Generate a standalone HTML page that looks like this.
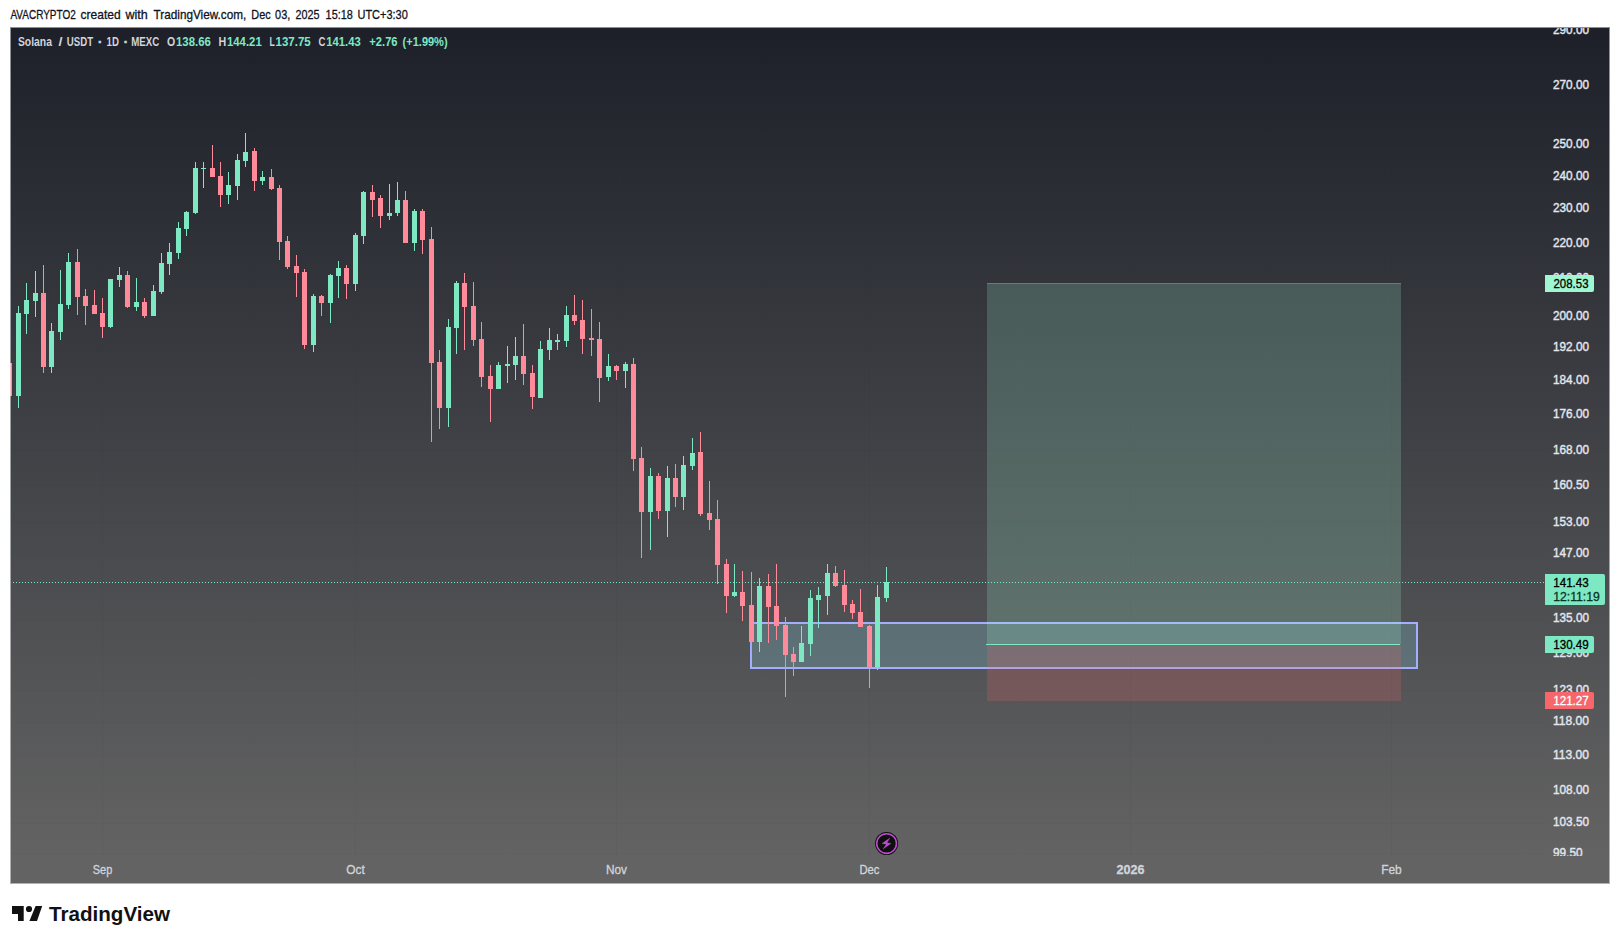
<!DOCTYPE html>
<html lang="en"><head><meta charset="utf-8"><title>Solana / USDT chart</title>
<style>
html,body{margin:0;padding:0;background:#fff;}
body{width:1620px;height:944px;overflow:hidden;position:relative;}
svg{display:block;position:absolute;left:0;top:0;}
text{font-family:"Liberation Sans",sans-serif;}
.ax{font-size:12px;fill:#e4e6ec;stroke:#e4e6ec;stroke-width:0.4px;}
.tm{font-size:12px;fill:#d1d4dc;stroke:#d1d4dc;stroke-width:0.3px;}
.lg{font-size:13px;font-weight:bold;}
</style></head><body>
<svg width="1620" height="944" viewBox="0 0 1620 944">
<defs>
<linearGradient id="bg" gradientUnits="userSpaceOnUse" x1="0" y1="28" x2="0" y2="856"><stop offset="0" stop-color="#1d2029"/><stop offset="1" stop-color="#636363"/></linearGradient>
<clipPath id="pane"><rect x="10" y="28" width="1599" height="828"/></clipPath>
<clipPath id="chart"><rect x="11" y="28" width="1598" height="855"/></clipPath>
</defs>
<g font-size="13" fill="#10131c" stroke="#10131c" stroke-width="0.3">
<text x="10.4" y="19" textLength="65.4" lengthAdjust="spacingAndGlyphs">AVACRYPTO2</text>
<text x="80.6" y="19" textLength="40.0" lengthAdjust="spacingAndGlyphs">created</text>
<text x="125.5" y="19" textLength="22.3" lengthAdjust="spacingAndGlyphs">with</text>
<text x="153.6" y="19" textLength="92.6" lengthAdjust="spacingAndGlyphs">TradingView.com,</text>
<text x="251.3" y="19" textLength="19.3" lengthAdjust="spacingAndGlyphs">Dec</text>
<text x="275.1" y="19" textLength="15.2" lengthAdjust="spacingAndGlyphs">03,</text>
<text x="295.5" y="19" textLength="24.0" lengthAdjust="spacingAndGlyphs">2025</text>
<text x="325.6" y="19" textLength="27.2" lengthAdjust="spacingAndGlyphs">15:18</text>
<text x="357.5" y="19" textLength="50.3" lengthAdjust="spacingAndGlyphs">UTC+3:30</text>
</g>
<rect x="10" y="27" width="1600" height="857" fill="url(#bg)"/>
<g clip-path="url(#pane)" shape-rendering="crispEdges" fill="#2a2e39" fill-opacity="0.05">
<rect x="11" y="30" width="1534" height="1" fill-opacity="0.03"/>
<rect x="11" y="85" width="1534" height="1" fill-opacity="0.03"/>
<rect x="11" y="144" width="1534" height="1" fill-opacity="0.03"/>
<rect x="11" y="175" width="1534" height="1" fill-opacity="0.03"/>
<rect x="11" y="208" width="1534" height="1" fill-opacity="0.03"/>
<rect x="11" y="242" width="1534" height="1" fill-opacity="0.03"/>
<rect x="11" y="278" width="1534" height="1" fill-opacity="0.03"/>
<rect x="11" y="316" width="1534" height="1" fill-opacity="0.03"/>
<rect x="11" y="347" width="1534" height="1" fill-opacity="0.03"/>
<rect x="11" y="380" width="1534" height="1" fill-opacity="0.03"/>
<rect x="11" y="414" width="1534" height="1" fill-opacity="0.03"/>
<rect x="11" y="450" width="1534" height="1" fill-opacity="0.03"/>
<rect x="11" y="485" width="1534" height="1" fill-opacity="0.03"/>
<rect x="11" y="522" width="1534" height="1" fill-opacity="0.03"/>
<rect x="11" y="553" width="1534" height="1" fill-opacity="0.03"/>
<rect x="11" y="619" width="1534" height="1" fill-opacity="0.03"/>
<rect x="11" y="654" width="1534" height="1" fill-opacity="0.03"/>
<rect x="11" y="690" width="1534" height="1" fill-opacity="0.03"/>
<rect x="11" y="722" width="1534" height="1" fill-opacity="0.03"/>
<rect x="11" y="755" width="1534" height="1" fill-opacity="0.03"/>
<rect x="11" y="790" width="1534" height="1" fill-opacity="0.03"/>
<rect x="11" y="823" width="1534" height="1" fill-opacity="0.03"/>
<rect x="11" y="853" width="1534" height="1" fill-opacity="0.03"/>
<rect x="11" y="585" width="1534" height="1" fill-opacity="0.03"/>
<rect x="102" y="28" width="1" height="828"/>
<rect x="355" y="28" width="1" height="828"/>
<rect x="616" y="28" width="1" height="828"/>
<rect x="869" y="28" width="1" height="828"/>
<rect x="1130" y="28" width="1" height="828"/>
<rect x="1391" y="28" width="1" height="828"/>
</g>
<g clip-path="url(#pane)" shape-rendering="crispEdges">
<rect x="751" y="623" width="666" height="45" fill="#7cb6c4" fill-opacity="0.3" stroke="#a3aeff" stroke-width="2"/>
<rect x="987" y="283" width="414" height="361" fill="#9ef7d1" fill-opacity="0.2"/>
<rect x="987" y="283" width="414" height="1" fill="#9ef7d1" fill-opacity="0.25"/>
<rect x="987" y="645" width="414" height="56" fill="#f7666b" fill-opacity="0.2"/>
<rect x="986" y="644" width="414" height="1" fill="#7de8c2"/>
</g>
<g clip-path="url(#pane)" shape-rendering="crispEdges">
<rect x="9" y="363" width="1" height="33" fill="#ff8a9a"/>
<rect x="7" y="363" width="5" height="33" fill="#ff8a9a"/>
<rect x="18" y="306" width="1" height="102" fill="#7de8c2"/>
<rect x="16" y="313" width="5" height="83" fill="#7de8c2"/>
<rect x="26" y="283" width="1" height="51" fill="#7de8c2"/>
<rect x="24" y="300" width="5" height="14" fill="#7de8c2"/>
<rect x="35" y="271" width="1" height="46" fill="#7de8c2"/>
<rect x="33" y="293" width="5" height="8" fill="#7de8c2"/>
<rect x="43" y="265" width="1" height="108" fill="#ff8a9a"/>
<rect x="41" y="293" width="5" height="74" fill="#ff8a9a"/>
<rect x="51" y="323" width="1" height="50" fill="#7de8c2"/>
<rect x="49" y="331" width="5" height="36" fill="#7de8c2"/>
<rect x="60" y="270" width="1" height="70" fill="#7de8c2"/>
<rect x="58" y="304" width="5" height="28" fill="#7de8c2"/>
<rect x="68" y="253" width="1" height="56" fill="#7de8c2"/>
<rect x="66" y="262" width="5" height="43" fill="#7de8c2"/>
<rect x="77" y="249" width="1" height="66" fill="#ff8a9a"/>
<rect x="75" y="262" width="5" height="35" fill="#ff8a9a"/>
<rect x="85" y="289" width="1" height="36" fill="#ff8a9a"/>
<rect x="83" y="296" width="5" height="10" fill="#ff8a9a"/>
<rect x="94" y="290" width="1" height="24" fill="#ff8a9a"/>
<rect x="92" y="305" width="5" height="9" fill="#ff8a9a"/>
<rect x="102" y="298" width="1" height="40" fill="#ff8a9a"/>
<rect x="100" y="313" width="5" height="14" fill="#ff8a9a"/>
<rect x="110" y="279" width="1" height="49" fill="#7de8c2"/>
<rect x="108" y="279" width="5" height="48" fill="#7de8c2"/>
<rect x="119" y="267" width="1" height="20" fill="#7de8c2"/>
<rect x="117" y="275" width="5" height="5" fill="#7de8c2"/>
<rect x="127" y="271" width="1" height="37" fill="#ff8a9a"/>
<rect x="125" y="275" width="5" height="32" fill="#ff8a9a"/>
<rect x="136" y="278" width="1" height="33" fill="#7de8c2"/>
<rect x="134" y="302" width="5" height="5" fill="#7de8c2"/>
<rect x="144" y="298" width="1" height="20" fill="#ff8a9a"/>
<rect x="142" y="302" width="5" height="14" fill="#ff8a9a"/>
<rect x="153" y="285" width="1" height="31" fill="#7de8c2"/>
<rect x="151" y="291" width="5" height="25" fill="#7de8c2"/>
<rect x="161" y="253" width="1" height="41" fill="#7de8c2"/>
<rect x="159" y="263" width="5" height="29" fill="#7de8c2"/>
<rect x="169" y="243" width="1" height="32" fill="#7de8c2"/>
<rect x="167" y="252" width="5" height="12" fill="#7de8c2"/>
<rect x="178" y="222" width="1" height="37" fill="#7de8c2"/>
<rect x="176" y="228" width="5" height="25" fill="#7de8c2"/>
<rect x="186" y="211" width="1" height="25" fill="#7de8c2"/>
<rect x="184" y="212" width="5" height="17" fill="#7de8c2"/>
<rect x="195" y="162" width="1" height="52" fill="#7de8c2"/>
<rect x="193" y="168" width="5" height="45" fill="#7de8c2"/>
<rect x="203" y="162" width="1" height="26" fill="#7de8c2"/>
<rect x="201" y="168" width="5" height="1" fill="#7de8c2"/>
<rect x="212" y="145" width="1" height="32" fill="#ff8a9a"/>
<rect x="210" y="168" width="5" height="9" fill="#ff8a9a"/>
<rect x="220" y="162" width="1" height="45" fill="#ff8a9a"/>
<rect x="218" y="176" width="5" height="19" fill="#ff8a9a"/>
<rect x="228" y="172" width="1" height="32" fill="#7de8c2"/>
<rect x="226" y="185" width="5" height="10" fill="#7de8c2"/>
<rect x="237" y="154" width="1" height="46" fill="#7de8c2"/>
<rect x="235" y="160" width="5" height="26" fill="#7de8c2"/>
<rect x="245" y="133" width="1" height="34" fill="#7de8c2"/>
<rect x="243" y="152" width="5" height="9" fill="#7de8c2"/>
<rect x="254" y="148" width="1" height="43" fill="#ff8a9a"/>
<rect x="252" y="151" width="5" height="30" fill="#ff8a9a"/>
<rect x="262" y="171" width="1" height="14" fill="#7de8c2"/>
<rect x="260" y="177" width="5" height="4" fill="#7de8c2"/>
<rect x="271" y="169" width="1" height="21" fill="#ff8a9a"/>
<rect x="269" y="177" width="5" height="12" fill="#ff8a9a"/>
<rect x="279" y="185" width="1" height="75" fill="#ff8a9a"/>
<rect x="277" y="188" width="5" height="54" fill="#ff8a9a"/>
<rect x="287" y="236" width="1" height="33" fill="#ff8a9a"/>
<rect x="285" y="241" width="5" height="26" fill="#ff8a9a"/>
<rect x="296" y="255" width="1" height="42" fill="#ff8a9a"/>
<rect x="294" y="266" width="5" height="7" fill="#ff8a9a"/>
<rect x="304" y="269" width="1" height="80" fill="#ff8a9a"/>
<rect x="302" y="272" width="5" height="73" fill="#ff8a9a"/>
<rect x="313" y="294" width="1" height="58" fill="#7de8c2"/>
<rect x="311" y="296" width="5" height="49" fill="#7de8c2"/>
<rect x="321" y="295" width="1" height="21" fill="#ff8a9a"/>
<rect x="319" y="296" width="5" height="7" fill="#ff8a9a"/>
<rect x="330" y="274" width="1" height="49" fill="#7de8c2"/>
<rect x="328" y="275" width="5" height="28" fill="#7de8c2"/>
<rect x="338" y="261" width="1" height="37" fill="#7de8c2"/>
<rect x="336" y="268" width="5" height="8" fill="#7de8c2"/>
<rect x="346" y="265" width="1" height="34" fill="#ff8a9a"/>
<rect x="344" y="268" width="5" height="16" fill="#ff8a9a"/>
<rect x="355" y="233" width="1" height="58" fill="#7de8c2"/>
<rect x="353" y="235" width="5" height="49" fill="#7de8c2"/>
<rect x="363" y="191" width="1" height="53" fill="#7de8c2"/>
<rect x="361" y="192" width="5" height="44" fill="#7de8c2"/>
<rect x="372" y="185" width="1" height="32" fill="#ff8a9a"/>
<rect x="370" y="192" width="5" height="8" fill="#ff8a9a"/>
<rect x="380" y="195" width="1" height="33" fill="#ff8a9a"/>
<rect x="378" y="198" width="5" height="18" fill="#ff8a9a"/>
<rect x="389" y="184" width="1" height="36" fill="#7de8c2"/>
<rect x="387" y="213" width="5" height="3" fill="#7de8c2"/>
<rect x="397" y="182" width="1" height="34" fill="#7de8c2"/>
<rect x="395" y="200" width="5" height="13" fill="#7de8c2"/>
<rect x="405" y="191" width="1" height="52" fill="#ff8a9a"/>
<rect x="403" y="200" width="5" height="43" fill="#ff8a9a"/>
<rect x="414" y="209" width="1" height="42" fill="#7de8c2"/>
<rect x="412" y="211" width="5" height="32" fill="#7de8c2"/>
<rect x="422" y="209" width="1" height="45" fill="#ff8a9a"/>
<rect x="420" y="211" width="5" height="29" fill="#ff8a9a"/>
<rect x="431" y="227" width="1" height="215" fill="#ff8a9a"/>
<rect x="429" y="239" width="5" height="124" fill="#ff8a9a"/>
<rect x="439" y="350" width="1" height="79" fill="#ff8a9a"/>
<rect x="437" y="362" width="5" height="46" fill="#ff8a9a"/>
<rect x="448" y="319" width="1" height="108" fill="#7de8c2"/>
<rect x="446" y="327" width="5" height="81" fill="#7de8c2"/>
<rect x="456" y="281" width="1" height="73" fill="#7de8c2"/>
<rect x="454" y="283" width="5" height="45" fill="#7de8c2"/>
<rect x="464" y="273" width="1" height="77" fill="#ff8a9a"/>
<rect x="462" y="283" width="5" height="24" fill="#ff8a9a"/>
<rect x="473" y="282" width="1" height="64" fill="#ff8a9a"/>
<rect x="471" y="306" width="5" height="34" fill="#ff8a9a"/>
<rect x="481" y="322" width="1" height="65" fill="#ff8a9a"/>
<rect x="479" y="339" width="5" height="38" fill="#ff8a9a"/>
<rect x="490" y="365" width="1" height="57" fill="#ff8a9a"/>
<rect x="488" y="376" width="5" height="13" fill="#ff8a9a"/>
<rect x="498" y="362" width="1" height="27" fill="#7de8c2"/>
<rect x="496" y="365" width="5" height="24" fill="#7de8c2"/>
<rect x="507" y="346" width="1" height="37" fill="#7de8c2"/>
<rect x="505" y="364" width="5" height="2" fill="#7de8c2"/>
<rect x="515" y="337" width="1" height="43" fill="#7de8c2"/>
<rect x="513" y="356" width="5" height="9" fill="#7de8c2"/>
<rect x="523" y="324" width="1" height="61" fill="#ff8a9a"/>
<rect x="521" y="356" width="5" height="18" fill="#ff8a9a"/>
<rect x="532" y="365" width="1" height="44" fill="#ff8a9a"/>
<rect x="530" y="373" width="5" height="24" fill="#ff8a9a"/>
<rect x="540" y="341" width="1" height="57" fill="#7de8c2"/>
<rect x="538" y="349" width="5" height="49" fill="#7de8c2"/>
<rect x="549" y="328" width="1" height="32" fill="#7de8c2"/>
<rect x="547" y="340" width="5" height="10" fill="#7de8c2"/>
<rect x="557" y="334" width="1" height="16" fill="#7de8c2"/>
<rect x="555" y="340" width="5" height="2" fill="#7de8c2"/>
<rect x="566" y="306" width="1" height="41" fill="#7de8c2"/>
<rect x="564" y="315" width="5" height="26" fill="#7de8c2"/>
<rect x="574" y="295" width="1" height="30" fill="#ff8a9a"/>
<rect x="572" y="315" width="5" height="6" fill="#ff8a9a"/>
<rect x="582" y="300" width="1" height="54" fill="#ff8a9a"/>
<rect x="580" y="320" width="5" height="19" fill="#ff8a9a"/>
<rect x="591" y="309" width="1" height="47" fill="#ff8a9a"/>
<rect x="589" y="338" width="5" height="2" fill="#ff8a9a"/>
<rect x="599" y="322" width="1" height="80" fill="#ff8a9a"/>
<rect x="597" y="339" width="5" height="39" fill="#ff8a9a"/>
<rect x="608" y="354" width="1" height="27" fill="#7de8c2"/>
<rect x="606" y="366" width="5" height="11" fill="#7de8c2"/>
<rect x="616" y="365" width="1" height="15" fill="#ff8a9a"/>
<rect x="614" y="366" width="5" height="5" fill="#ff8a9a"/>
<rect x="625" y="362" width="1" height="26" fill="#7de8c2"/>
<rect x="623" y="364" width="5" height="7" fill="#7de8c2"/>
<rect x="633" y="358" width="1" height="113" fill="#ff8a9a"/>
<rect x="631" y="364" width="5" height="95" fill="#ff8a9a"/>
<rect x="641" y="447" width="1" height="111" fill="#ff8a9a"/>
<rect x="639" y="458" width="5" height="54" fill="#ff8a9a"/>
<rect x="650" y="468" width="1" height="82" fill="#7de8c2"/>
<rect x="648" y="476" width="5" height="36" fill="#7de8c2"/>
<rect x="658" y="473" width="1" height="46" fill="#ff8a9a"/>
<rect x="656" y="476" width="5" height="35" fill="#ff8a9a"/>
<rect x="667" y="466" width="1" height="71" fill="#7de8c2"/>
<rect x="665" y="478" width="5" height="33" fill="#7de8c2"/>
<rect x="675" y="464" width="1" height="43" fill="#ff8a9a"/>
<rect x="673" y="478" width="5" height="19" fill="#ff8a9a"/>
<rect x="683" y="456" width="1" height="54" fill="#7de8c2"/>
<rect x="681" y="465" width="5" height="32" fill="#7de8c2"/>
<rect x="692" y="438" width="1" height="32" fill="#7de8c2"/>
<rect x="690" y="453" width="5" height="13" fill="#7de8c2"/>
<rect x="700" y="432" width="1" height="84" fill="#ff8a9a"/>
<rect x="698" y="452" width="5" height="62" fill="#ff8a9a"/>
<rect x="709" y="481" width="1" height="49" fill="#ff8a9a"/>
<rect x="707" y="513" width="5" height="7" fill="#ff8a9a"/>
<rect x="717" y="500" width="1" height="84" fill="#ff8a9a"/>
<rect x="715" y="519" width="5" height="46" fill="#ff8a9a"/>
<rect x="726" y="559" width="1" height="54" fill="#ff8a9a"/>
<rect x="724" y="564" width="5" height="32" fill="#ff8a9a"/>
<rect x="734" y="564" width="1" height="33" fill="#7de8c2"/>
<rect x="732" y="592" width="5" height="4" fill="#7de8c2"/>
<rect x="742" y="571" width="1" height="50" fill="#ff8a9a"/>
<rect x="740" y="592" width="5" height="14" fill="#ff8a9a"/>
<rect x="751" y="572" width="1" height="81" fill="#ff8a9a"/>
<rect x="749" y="605" width="5" height="37" fill="#ff8a9a"/>
<rect x="759" y="578" width="1" height="74" fill="#7de8c2"/>
<rect x="757" y="586" width="5" height="56" fill="#7de8c2"/>
<rect x="768" y="574" width="1" height="69" fill="#ff8a9a"/>
<rect x="766" y="586" width="5" height="21" fill="#ff8a9a"/>
<rect x="776" y="564" width="1" height="76" fill="#ff8a9a"/>
<rect x="774" y="606" width="5" height="20" fill="#ff8a9a"/>
<rect x="785" y="617" width="1" height="80" fill="#ff8a9a"/>
<rect x="783" y="625" width="5" height="30" fill="#ff8a9a"/>
<rect x="793" y="647" width="1" height="29" fill="#ff8a9a"/>
<rect x="791" y="654" width="5" height="8" fill="#ff8a9a"/>
<rect x="801" y="626" width="1" height="36" fill="#7de8c2"/>
<rect x="799" y="643" width="5" height="19" fill="#7de8c2"/>
<rect x="810" y="590" width="1" height="66" fill="#7de8c2"/>
<rect x="808" y="598" width="5" height="46" fill="#7de8c2"/>
<rect x="818" y="587" width="1" height="41" fill="#7de8c2"/>
<rect x="816" y="595" width="5" height="5" fill="#7de8c2"/>
<rect x="827" y="564" width="1" height="51" fill="#7de8c2"/>
<rect x="825" y="573" width="5" height="23" fill="#7de8c2"/>
<rect x="835" y="566" width="1" height="21" fill="#ff8a9a"/>
<rect x="833" y="573" width="5" height="13" fill="#ff8a9a"/>
<rect x="844" y="570" width="1" height="42" fill="#ff8a9a"/>
<rect x="842" y="585" width="5" height="20" fill="#ff8a9a"/>
<rect x="852" y="600" width="1" height="19" fill="#ff8a9a"/>
<rect x="850" y="604" width="5" height="9" fill="#ff8a9a"/>
<rect x="860" y="589" width="1" height="38" fill="#ff8a9a"/>
<rect x="858" y="612" width="5" height="15" fill="#ff8a9a"/>
<rect x="869" y="625" width="1" height="63" fill="#ff8a9a"/>
<rect x="867" y="626" width="5" height="41" fill="#ff8a9a"/>
<rect x="877" y="585" width="1" height="85" fill="#7de8c2"/>
<rect x="875" y="597" width="5" height="70" fill="#7de8c2"/>
<rect x="886" y="567" width="1" height="35" fill="#7de8c2"/>
<rect x="884" y="582" width="5" height="16" fill="#7de8c2"/>
</g>
<g shape-rendering="crispEdges" fill="#7de8c2">
<path d="M13 582h1v1h-1zM16 582h1v1h-1zM19 582h1v1h-1zM22 582h1v1h-1zM25 582h1v1h-1zM28 582h1v1h-1zM31 582h1v1h-1zM34 582h1v1h-1zM37 582h1v1h-1zM40 582h1v1h-1zM43 582h1v1h-1zM46 582h1v1h-1zM49 582h1v1h-1zM52 582h1v1h-1zM55 582h1v1h-1zM58 582h1v1h-1zM61 582h1v1h-1zM64 582h1v1h-1zM67 582h1v1h-1zM70 582h1v1h-1zM73 582h1v1h-1zM76 582h1v1h-1zM79 582h1v1h-1zM82 582h1v1h-1zM85 582h1v1h-1zM88 582h1v1h-1zM91 582h1v1h-1zM94 582h1v1h-1zM97 582h1v1h-1zM100 582h1v1h-1zM103 582h1v1h-1zM106 582h1v1h-1zM109 582h1v1h-1zM112 582h1v1h-1zM115 582h1v1h-1zM118 582h1v1h-1zM121 582h1v1h-1zM124 582h1v1h-1zM127 582h1v1h-1zM130 582h1v1h-1zM133 582h1v1h-1zM136 582h1v1h-1zM139 582h1v1h-1zM142 582h1v1h-1zM145 582h1v1h-1zM148 582h1v1h-1zM151 582h1v1h-1zM154 582h1v1h-1zM157 582h1v1h-1zM160 582h1v1h-1zM163 582h1v1h-1zM166 582h1v1h-1zM169 582h1v1h-1zM172 582h1v1h-1zM175 582h1v1h-1zM178 582h1v1h-1zM181 582h1v1h-1zM184 582h1v1h-1zM187 582h1v1h-1zM190 582h1v1h-1zM193 582h1v1h-1zM196 582h1v1h-1zM199 582h1v1h-1zM202 582h1v1h-1zM205 582h1v1h-1zM208 582h1v1h-1zM211 582h1v1h-1zM214 582h1v1h-1zM217 582h1v1h-1zM220 582h1v1h-1zM223 582h1v1h-1zM226 582h1v1h-1zM229 582h1v1h-1zM232 582h1v1h-1zM235 582h1v1h-1zM238 582h1v1h-1zM241 582h1v1h-1zM244 582h1v1h-1zM247 582h1v1h-1zM250 582h1v1h-1zM253 582h1v1h-1zM256 582h1v1h-1zM259 582h1v1h-1zM262 582h1v1h-1zM265 582h1v1h-1zM268 582h1v1h-1zM271 582h1v1h-1zM274 582h1v1h-1zM277 582h1v1h-1zM280 582h1v1h-1zM283 582h1v1h-1zM286 582h1v1h-1zM289 582h1v1h-1zM292 582h1v1h-1zM295 582h1v1h-1zM298 582h1v1h-1zM301 582h1v1h-1zM304 582h1v1h-1zM307 582h1v1h-1zM310 582h1v1h-1zM313 582h1v1h-1zM316 582h1v1h-1zM319 582h1v1h-1zM322 582h1v1h-1zM325 582h1v1h-1zM328 582h1v1h-1zM331 582h1v1h-1zM334 582h1v1h-1zM337 582h1v1h-1zM340 582h1v1h-1zM343 582h1v1h-1zM346 582h1v1h-1zM349 582h1v1h-1zM352 582h1v1h-1zM355 582h1v1h-1zM358 582h1v1h-1zM361 582h1v1h-1zM364 582h1v1h-1zM367 582h1v1h-1zM370 582h1v1h-1zM373 582h1v1h-1zM376 582h1v1h-1zM379 582h1v1h-1zM382 582h1v1h-1zM385 582h1v1h-1zM388 582h1v1h-1zM391 582h1v1h-1zM394 582h1v1h-1zM397 582h1v1h-1zM400 582h1v1h-1zM403 582h1v1h-1zM406 582h1v1h-1zM409 582h1v1h-1zM412 582h1v1h-1zM415 582h1v1h-1zM418 582h1v1h-1zM421 582h1v1h-1zM424 582h1v1h-1zM427 582h1v1h-1zM430 582h1v1h-1zM433 582h1v1h-1zM436 582h1v1h-1zM439 582h1v1h-1zM442 582h1v1h-1zM445 582h1v1h-1zM448 582h1v1h-1zM451 582h1v1h-1zM454 582h1v1h-1zM457 582h1v1h-1zM460 582h1v1h-1zM463 582h1v1h-1zM466 582h1v1h-1zM469 582h1v1h-1zM472 582h1v1h-1zM475 582h1v1h-1zM478 582h1v1h-1zM481 582h1v1h-1zM484 582h1v1h-1zM487 582h1v1h-1zM490 582h1v1h-1zM493 582h1v1h-1zM496 582h1v1h-1zM499 582h1v1h-1zM502 582h1v1h-1zM505 582h1v1h-1zM508 582h1v1h-1zM511 582h1v1h-1zM514 582h1v1h-1zM517 582h1v1h-1zM520 582h1v1h-1zM523 582h1v1h-1zM526 582h1v1h-1zM529 582h1v1h-1zM532 582h1v1h-1zM535 582h1v1h-1zM538 582h1v1h-1zM541 582h1v1h-1zM544 582h1v1h-1zM547 582h1v1h-1zM550 582h1v1h-1zM553 582h1v1h-1zM556 582h1v1h-1zM559 582h1v1h-1zM562 582h1v1h-1zM565 582h1v1h-1zM568 582h1v1h-1zM571 582h1v1h-1zM574 582h1v1h-1zM577 582h1v1h-1zM580 582h1v1h-1zM583 582h1v1h-1zM586 582h1v1h-1zM589 582h1v1h-1zM592 582h1v1h-1zM595 582h1v1h-1zM598 582h1v1h-1zM601 582h1v1h-1zM604 582h1v1h-1zM607 582h1v1h-1zM610 582h1v1h-1zM613 582h1v1h-1zM616 582h1v1h-1zM619 582h1v1h-1zM622 582h1v1h-1zM625 582h1v1h-1zM628 582h1v1h-1zM631 582h1v1h-1zM634 582h1v1h-1zM637 582h1v1h-1zM640 582h1v1h-1zM643 582h1v1h-1zM646 582h1v1h-1zM649 582h1v1h-1zM652 582h1v1h-1zM655 582h1v1h-1zM658 582h1v1h-1zM661 582h1v1h-1zM664 582h1v1h-1zM667 582h1v1h-1zM670 582h1v1h-1zM673 582h1v1h-1zM676 582h1v1h-1zM679 582h1v1h-1zM682 582h1v1h-1zM685 582h1v1h-1zM688 582h1v1h-1zM691 582h1v1h-1zM694 582h1v1h-1zM697 582h1v1h-1zM700 582h1v1h-1zM703 582h1v1h-1zM706 582h1v1h-1zM709 582h1v1h-1zM712 582h1v1h-1zM715 582h1v1h-1zM718 582h1v1h-1zM721 582h1v1h-1zM724 582h1v1h-1zM727 582h1v1h-1zM730 582h1v1h-1zM733 582h1v1h-1zM736 582h1v1h-1zM739 582h1v1h-1zM742 582h1v1h-1zM745 582h1v1h-1zM748 582h1v1h-1zM751 582h1v1h-1zM754 582h1v1h-1zM757 582h1v1h-1zM760 582h1v1h-1zM763 582h1v1h-1zM766 582h1v1h-1zM769 582h1v1h-1zM772 582h1v1h-1zM775 582h1v1h-1zM778 582h1v1h-1zM781 582h1v1h-1zM784 582h1v1h-1zM787 582h1v1h-1zM790 582h1v1h-1zM793 582h1v1h-1zM796 582h1v1h-1zM799 582h1v1h-1zM802 582h1v1h-1zM805 582h1v1h-1zM808 582h1v1h-1zM811 582h1v1h-1zM814 582h1v1h-1zM817 582h1v1h-1zM820 582h1v1h-1zM823 582h1v1h-1zM826 582h1v1h-1zM829 582h1v1h-1zM832 582h1v1h-1zM835 582h1v1h-1zM838 582h1v1h-1zM841 582h1v1h-1zM844 582h1v1h-1zM847 582h1v1h-1zM850 582h1v1h-1zM853 582h1v1h-1zM856 582h1v1h-1zM859 582h1v1h-1zM862 582h1v1h-1zM865 582h1v1h-1zM868 582h1v1h-1zM871 582h1v1h-1zM874 582h1v1h-1zM877 582h1v1h-1zM880 582h1v1h-1zM883 582h1v1h-1zM886 582h1v1h-1zM889 582h1v1h-1zM892 582h1v1h-1zM895 582h1v1h-1zM898 582h1v1h-1zM901 582h1v1h-1zM904 582h1v1h-1zM907 582h1v1h-1zM910 582h1v1h-1zM913 582h1v1h-1zM916 582h1v1h-1zM919 582h1v1h-1zM922 582h1v1h-1zM925 582h1v1h-1zM928 582h1v1h-1zM931 582h1v1h-1zM934 582h1v1h-1zM937 582h1v1h-1zM940 582h1v1h-1zM943 582h1v1h-1zM946 582h1v1h-1zM949 582h1v1h-1zM952 582h1v1h-1zM955 582h1v1h-1zM958 582h1v1h-1zM961 582h1v1h-1zM964 582h1v1h-1zM967 582h1v1h-1zM970 582h1v1h-1zM973 582h1v1h-1zM976 582h1v1h-1zM979 582h1v1h-1zM982 582h1v1h-1zM985 582h1v1h-1zM988 582h1v1h-1zM991 582h1v1h-1zM994 582h1v1h-1zM997 582h1v1h-1zM1000 582h1v1h-1zM1003 582h1v1h-1zM1006 582h1v1h-1zM1009 582h1v1h-1zM1012 582h1v1h-1zM1015 582h1v1h-1zM1018 582h1v1h-1zM1021 582h1v1h-1zM1024 582h1v1h-1zM1027 582h1v1h-1zM1030 582h1v1h-1zM1033 582h1v1h-1zM1036 582h1v1h-1zM1039 582h1v1h-1zM1042 582h1v1h-1zM1045 582h1v1h-1zM1048 582h1v1h-1zM1051 582h1v1h-1zM1054 582h1v1h-1zM1057 582h1v1h-1zM1060 582h1v1h-1zM1063 582h1v1h-1zM1066 582h1v1h-1zM1069 582h1v1h-1zM1072 582h1v1h-1zM1075 582h1v1h-1zM1078 582h1v1h-1zM1081 582h1v1h-1zM1084 582h1v1h-1zM1087 582h1v1h-1zM1090 582h1v1h-1zM1093 582h1v1h-1zM1096 582h1v1h-1zM1099 582h1v1h-1zM1102 582h1v1h-1zM1105 582h1v1h-1zM1108 582h1v1h-1zM1111 582h1v1h-1zM1114 582h1v1h-1zM1117 582h1v1h-1zM1120 582h1v1h-1zM1123 582h1v1h-1zM1126 582h1v1h-1zM1129 582h1v1h-1zM1132 582h1v1h-1zM1135 582h1v1h-1zM1138 582h1v1h-1zM1141 582h1v1h-1zM1144 582h1v1h-1zM1147 582h1v1h-1zM1150 582h1v1h-1zM1153 582h1v1h-1zM1156 582h1v1h-1zM1159 582h1v1h-1zM1162 582h1v1h-1zM1165 582h1v1h-1zM1168 582h1v1h-1zM1171 582h1v1h-1zM1174 582h1v1h-1zM1177 582h1v1h-1zM1180 582h1v1h-1zM1183 582h1v1h-1zM1186 582h1v1h-1zM1189 582h1v1h-1zM1192 582h1v1h-1zM1195 582h1v1h-1zM1198 582h1v1h-1zM1201 582h1v1h-1zM1204 582h1v1h-1zM1207 582h1v1h-1zM1210 582h1v1h-1zM1213 582h1v1h-1zM1216 582h1v1h-1zM1219 582h1v1h-1zM1222 582h1v1h-1zM1225 582h1v1h-1zM1228 582h1v1h-1zM1231 582h1v1h-1zM1234 582h1v1h-1zM1237 582h1v1h-1zM1240 582h1v1h-1zM1243 582h1v1h-1zM1246 582h1v1h-1zM1249 582h1v1h-1zM1252 582h1v1h-1zM1255 582h1v1h-1zM1258 582h1v1h-1zM1261 582h1v1h-1zM1264 582h1v1h-1zM1267 582h1v1h-1zM1270 582h1v1h-1zM1273 582h1v1h-1zM1276 582h1v1h-1zM1279 582h1v1h-1zM1282 582h1v1h-1zM1285 582h1v1h-1zM1288 582h1v1h-1zM1291 582h1v1h-1zM1294 582h1v1h-1zM1297 582h1v1h-1zM1300 582h1v1h-1zM1303 582h1v1h-1zM1306 582h1v1h-1zM1309 582h1v1h-1zM1312 582h1v1h-1zM1315 582h1v1h-1zM1318 582h1v1h-1zM1321 582h1v1h-1zM1324 582h1v1h-1zM1327 582h1v1h-1zM1330 582h1v1h-1zM1333 582h1v1h-1zM1336 582h1v1h-1zM1339 582h1v1h-1zM1342 582h1v1h-1zM1345 582h1v1h-1zM1348 582h1v1h-1zM1351 582h1v1h-1zM1354 582h1v1h-1zM1357 582h1v1h-1zM1360 582h1v1h-1zM1363 582h1v1h-1zM1366 582h1v1h-1zM1369 582h1v1h-1zM1372 582h1v1h-1zM1375 582h1v1h-1zM1378 582h1v1h-1zM1381 582h1v1h-1zM1384 582h1v1h-1zM1387 582h1v1h-1zM1390 582h1v1h-1zM1393 582h1v1h-1zM1396 582h1v1h-1zM1399 582h1v1h-1zM1402 582h1v1h-1zM1405 582h1v1h-1zM1408 582h1v1h-1zM1411 582h1v1h-1zM1414 582h1v1h-1zM1417 582h1v1h-1zM1420 582h1v1h-1zM1423 582h1v1h-1zM1426 582h1v1h-1zM1429 582h1v1h-1zM1432 582h1v1h-1zM1435 582h1v1h-1zM1438 582h1v1h-1zM1441 582h1v1h-1zM1444 582h1v1h-1zM1447 582h1v1h-1zM1450 582h1v1h-1zM1453 582h1v1h-1zM1456 582h1v1h-1zM1459 582h1v1h-1zM1462 582h1v1h-1zM1465 582h1v1h-1zM1468 582h1v1h-1zM1471 582h1v1h-1zM1474 582h1v1h-1zM1477 582h1v1h-1zM1480 582h1v1h-1zM1483 582h1v1h-1zM1486 582h1v1h-1zM1489 582h1v1h-1zM1492 582h1v1h-1zM1495 582h1v1h-1zM1498 582h1v1h-1zM1501 582h1v1h-1zM1504 582h1v1h-1zM1507 582h1v1h-1zM1510 582h1v1h-1zM1513 582h1v1h-1zM1516 582h1v1h-1zM1519 582h1v1h-1zM1522 582h1v1h-1zM1525 582h1v1h-1zM1528 582h1v1h-1zM1531 582h1v1h-1zM1534 582h1v1h-1zM1537 582h1v1h-1zM1540 582h1v1h-1zM1543 582h1v1h-1z"/>
</g>
<g clip-path="url(#pane)">
<text class="ax" x="1553" y="34" textLength="36" lengthAdjust="spacingAndGlyphs">290.00</text>
<text class="ax" x="1553" y="89" textLength="36" lengthAdjust="spacingAndGlyphs">270.00</text>
<text class="ax" x="1553" y="148" textLength="36" lengthAdjust="spacingAndGlyphs">250.00</text>
<text class="ax" x="1553" y="180" textLength="36" lengthAdjust="spacingAndGlyphs">240.00</text>
<text class="ax" x="1553" y="212" textLength="36" lengthAdjust="spacingAndGlyphs">230.00</text>
<text class="ax" x="1553" y="247" textLength="36" lengthAdjust="spacingAndGlyphs">220.00</text>
<text class="ax" x="1553" y="282" textLength="36" lengthAdjust="spacingAndGlyphs">210.00</text>
<text class="ax" x="1553" y="320" textLength="36" lengthAdjust="spacingAndGlyphs">200.00</text>
<text class="ax" x="1553" y="351" textLength="36" lengthAdjust="spacingAndGlyphs">192.00</text>
<text class="ax" x="1553" y="384" textLength="36" lengthAdjust="spacingAndGlyphs">184.00</text>
<text class="ax" x="1553" y="418" textLength="36" lengthAdjust="spacingAndGlyphs">176.00</text>
<text class="ax" x="1553" y="454" textLength="36" lengthAdjust="spacingAndGlyphs">168.00</text>
<text class="ax" x="1553" y="489" textLength="36" lengthAdjust="spacingAndGlyphs">160.50</text>
<text class="ax" x="1553" y="526" textLength="36" lengthAdjust="spacingAndGlyphs">153.00</text>
<text class="ax" x="1553" y="557" textLength="36" lengthAdjust="spacingAndGlyphs">147.00</text>
<text class="ax" x="1553" y="622" textLength="36" lengthAdjust="spacingAndGlyphs">135.00</text>
<text class="ax" x="1553" y="657" textLength="36" lengthAdjust="spacingAndGlyphs">129.00</text>
<text class="ax" x="1553" y="694" textLength="36" lengthAdjust="spacingAndGlyphs">123.00</text>
<text class="ax" x="1553" y="725" textLength="36" lengthAdjust="spacingAndGlyphs">118.00</text>
<text class="ax" x="1553" y="759" textLength="36" lengthAdjust="spacingAndGlyphs">113.00</text>
<text class="ax" x="1553" y="794" textLength="36" lengthAdjust="spacingAndGlyphs">108.00</text>
<text class="ax" x="1553" y="826" textLength="36" lengthAdjust="spacingAndGlyphs">103.50</text>
<text class="ax" x="1553" y="857" textLength="29.5" lengthAdjust="spacingAndGlyphs">99.50</text>
</g>
<rect x="1545" y="275" width="49" height="17" rx="2" fill="#9ef7d1"/><rect x="1545" y="275" width="4" height="17" fill="#9ef7d1"/>
<text x="1553.5" y="288" font-size="12" fill="#000" stroke="#000" stroke-width="0.3" textLength="35" lengthAdjust="spacingAndGlyphs">208.53</text>
<rect x="1545" y="574" width="60" height="31" rx="2" fill="#7de8c2"/><rect x="1545" y="574" width="4" height="31" fill="#7de8c2"/>
<text x="1553.2" y="587" font-size="12" fill="#000" stroke="#000" stroke-width="0.3" textLength="35.6" lengthAdjust="spacingAndGlyphs">141.43</text>
<text x="1553.2" y="601" font-size="12" fill="#0b3325" stroke="#0b3325" stroke-width="0.3" textLength="46.6" lengthAdjust="spacingAndGlyphs">12:11:19</text>
<rect x="1545" y="636" width="49" height="17" rx="2" fill="#7de8c2"/><rect x="1545" y="636" width="4" height="17" fill="#7de8c2"/>
<text x="1553.2" y="649" font-size="12" fill="#000" stroke="#000" stroke-width="0.3" textLength="35.6" lengthAdjust="spacingAndGlyphs">130.49</text>
<rect x="1545" y="692" width="49" height="17" rx="2" fill="#f7666b"/><rect x="1545" y="692" width="4" height="17" fill="#f7666b"/>
<text x="1553.2" y="705" font-size="12" fill="#fff" stroke="#fff" stroke-width="0.3" textLength="35.6" lengthAdjust="spacingAndGlyphs">121.27</text>
<text class="tm" x="92.8" y="874" textLength="19.5" lengthAdjust="spacingAndGlyphs">Sep</text>
<text class="tm" x="346.2" y="874" textLength="18.5" lengthAdjust="spacingAndGlyphs">Oct</text>
<text class="tm" x="606.0" y="874" textLength="21" lengthAdjust="spacingAndGlyphs">Nov</text>
<text class="tm" x="859.5" y="874" textLength="20" lengthAdjust="spacingAndGlyphs">Dec</text>
<text class="tm" x="1116.5" y="874" font-weight="bold" textLength="28" lengthAdjust="spacingAndGlyphs">2026</text>
<text class="tm" x="1381.2" y="874" textLength="20.5" lengthAdjust="spacingAndGlyphs">Feb</text>
<text class="lg" x="17.9" y="46" fill="#d1d4dc" textLength="34.0" lengthAdjust="spacingAndGlyphs">Solana</text>
<text class="lg" x="58.6" y="46" fill="#d1d4dc" textLength="4.0" lengthAdjust="spacingAndGlyphs">/</text>
<text class="lg" x="66.8" y="46" fill="#d1d4dc" textLength="26.3" lengthAdjust="spacingAndGlyphs">USDT</text>
<text class="lg" x="98.10000000000001" y="46" fill="#d1d4dc" stroke="#d1d4dc" stroke-width="0.6" font-size="14">·</text>
<text class="lg" x="106.6" y="46" fill="#d1d4dc" textLength="12.4" lengthAdjust="spacingAndGlyphs">1D</text>
<text class="lg" x="123.7" y="46" fill="#d1d4dc" stroke="#d1d4dc" stroke-width="0.6" font-size="14">·</text>
<text class="lg" x="131.2" y="46" fill="#d1d4dc" textLength="28.0" lengthAdjust="spacingAndGlyphs">MEXC</text>
<text class="lg" x="167" y="46" fill="#d1d4dc" textLength="8.2" lengthAdjust="spacingAndGlyphs">O</text>
<text class="lg" x="176" y="46" fill="#7de8c2" textLength="34.8" lengthAdjust="spacingAndGlyphs">138.66</text>
<text class="lg" x="218.5" y="46" fill="#d1d4dc" textLength="7.7" lengthAdjust="spacingAndGlyphs">H</text>
<text class="lg" x="227" y="46" fill="#7de8c2" textLength="34.7" lengthAdjust="spacingAndGlyphs">144.21</text>
<text class="lg" x="269.5" y="46" fill="#d1d4dc" textLength="5.3" lengthAdjust="spacingAndGlyphs">L</text>
<text class="lg" x="275.6" y="46" fill="#7de8c2" textLength="35.1" lengthAdjust="spacingAndGlyphs">137.75</text>
<text class="lg" x="318.5" y="46" fill="#d1d4dc" textLength="6.9" lengthAdjust="spacingAndGlyphs">C</text>
<text class="lg" x="326.2" y="46" fill="#7de8c2" textLength="34.5" lengthAdjust="spacingAndGlyphs">141.43</text>
<text class="lg" x="369.3" y="46" fill="#7de8c2" textLength="28.3" lengthAdjust="spacingAndGlyphs">+2.76</text>
<text class="lg" x="402.6" y="46" fill="#7de8c2" textLength="45.0" lengthAdjust="spacingAndGlyphs">(+1.99%)</text>
<g fill="#fff" fill-opacity="0.5" shape-rendering="crispEdges"><rect x="10" y="27" width="1600" height="1"/><rect x="10" y="883" width="1600" height="1"/><rect x="10" y="28" width="1" height="855"/><rect x="1609" y="28" width="1" height="855"/></g>
<g><circle cx="886.6" cy="843.5" r="11.5" fill="#0f0f0f"/><circle cx="886.6" cy="843.5" r="9.85" fill="none" stroke="#bd4cd0" stroke-width="1.55"/>
<path d="M889.9 837.9 L881.9 843.6 L886.3 844.2 L883 849.1 L891.1 843.4 L887 842.8 Z" fill="#bd4cd0" stroke="#bd4cd0" stroke-width="0.3" stroke-linejoin="round"/></g>
<g fill="#111"><path d="M23.7 921H18V914H12V906H23.7z"/><circle cx="29" cy="909" r="3.1"/><path d="M37 921H29.4L35.6 906H42.2z"/></g>
<text x="49" y="921" font-size="21" font-weight="bold" fill="#111" textLength="121" lengthAdjust="spacingAndGlyphs">TradingView</text>
</svg></body></html>
